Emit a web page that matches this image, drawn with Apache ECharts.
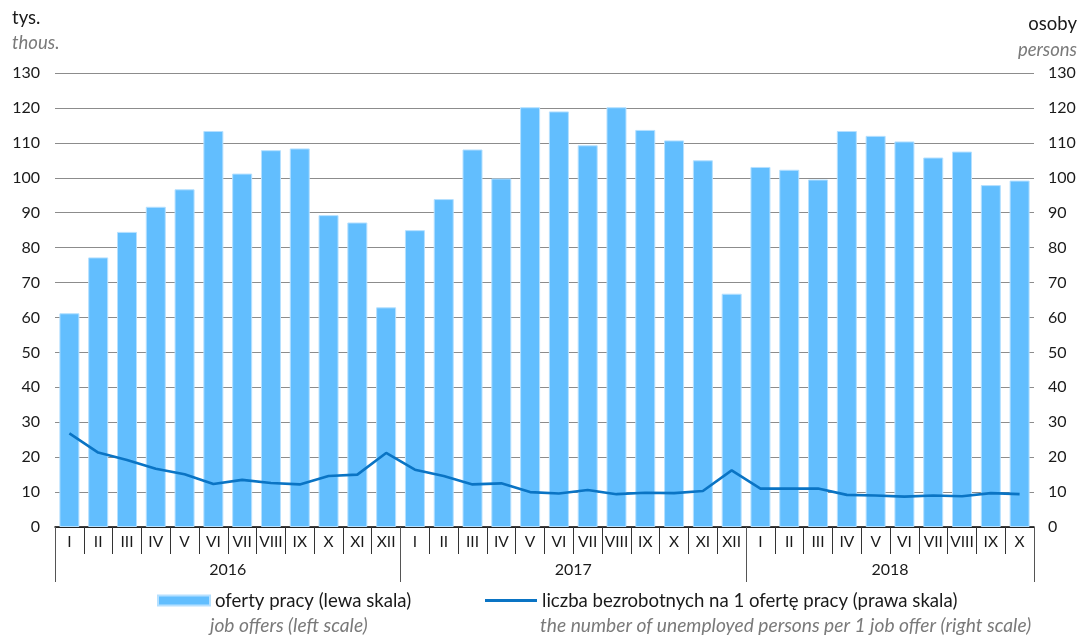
<!DOCTYPE html>
<html>
<head>
<meta charset="utf-8">
<script src="https://cdn.jsdelivr.net/npm/echarts@6/dist/echarts.min.js"></script>
<style>html,body{margin:0;padding:0;background:#fff}#c{width:1089px;height:638px}</style>
</head>
<body>
<div id="c"></div>
<script>
const months = ['I','II','III','IV','V','VI','VII','VIII','IX','X','XI','XII',
                'I','II','III','IV','V','VI','VII','VIII','IX','X','XI','XII',
                'I','II','III','IV','V','VI','VII','VIII','IX','X'];
const years = ['2016','2017','2018'];
const monthsPerYear = [12, 12, 10];
const jobOffers = [61.2,77.2,84.5,91.7,96.7,113.4,101.2,107.9,108.4,89.3,87.2,62.9,
                   85.0,93.9,108.1,99.8,120.2,119.0,109.3,120.2,113.7,110.7,105.0,66.8,
                   103.1,102.3,99.5,113.4,112.0,110.4,105.8,107.5,97.9,99.2];
const unemployedPerOffer = [26.8,21.3,19.2,16.7,15.1,12.3,13.5,12.6,12.2,14.6,15.0,21.2,
                            16.4,14.6,12.2,12.5,10.0,9.6,10.6,9.4,9.8,9.7,10.3,16.2,
                            11.0,11.0,11.0,9.2,9.0,8.7,9.0,8.8,9.7,9.4];
const leftTicks = [0,10,20,30,40,50,60,70,80,90,100,110,120,130];
const seriesNamesPL = ['oferty pracy (lewa skala)', 'liczba bezrobotnych na 1 ofertę pracy (prawa skala)'];
const seriesNamesEN = ['job offers (left scale)', 'the number of unemployed persons per 1 job offer (right scale)'];

// Year axis: boundary positions and centered labels (boundaryGap:false, one slot per month boundary)
const boundaries = [0];
const yearAxisData = [];
let acc = 0;
monthsPerYear.forEach(n => { acc += n; boundaries.push(acc); });
for (let i = 0; i <= acc; i++) yearAxisData.push('');
years.forEach((y, i) => {
  const mid = Math.floor((boundaries[i] + boundaries[i + 1]) / 2);
  yearAxisData[mid] = y;
});

const FONT = 'Lato, "Liberation Sans", sans-serif';
const TXT = '#1a1a1a';
const GREY = '#7a7a7a';
const LEG = 18.6;
const LEG_EN = 19.2;

const chart = echarts.init(document.getElementById('c'), null, {renderer: 'canvas'});
chart.setOption({
  animation: false,
  backgroundColor: '#fff',
  textStyle: {fontFamily: FONT},
  grid: {left: 55, right: 55, top: 73, bottom: 111, containLabel: false},
  legend: [
    {
      data: [seriesNamesPL[0]], left: 157, top: 591, itemWidth: 52, itemHeight: 10,
      icon: 'rect', padding: 0, selectedMode: false,
      textStyle: {fontFamily: FONT, fontSize: LEG, color: TXT}
    },
    {
      data: [seriesNamesPL[1]], left: 485, top: 591, itemWidth: 52, itemHeight: 3,
      icon: 'rect', padding: 0, selectedMode: false,
      textStyle: {fontFamily: FONT, fontSize: LEG, color: TXT}
    }
  ],
  xAxis: [
    {
      type: 'category', data: months, position: 'bottom', boundaryGap: true,
      axisLine: {show: true, lineStyle: {color: '#000', width: 1.5}},
      axisTick: {show: true, interval: 0, length: 27, lineStyle: {color: '#333', width: 1}},
      axisLabel: {interval: 0, margin: 7, fontSize: 15.5, color: TXT, fontFamily: FONT},
      splitLine: {show: false}
    },
    {
      type: 'category', data: yearAxisData, position: 'bottom', boundaryGap: false,
      axisLine: {show: false},
      axisTick: {show: true, length: 55, lineStyle: {color: '#555', width: 1},
        interval: (idx) => boundaries.indexOf(idx) >= 0},
      axisLabel: {interval: 0, margin: 35, fontSize: 16, color: TXT, fontFamily: FONT},
      splitLine: {show: false}
    }
  ],
  yAxis: [
    {
      type: 'value', min: leftTicks[0], max: leftTicks[leftTicks.length - 1], interval: 10, position: 'left',
      axisLine: {show: false}, axisTick: {show: false},
      axisLabel: {margin: 15, fontSize: 16, color: TXT, fontFamily: FONT},
      splitLine: {show: true, lineStyle: {color: '#8c8c8c', width: 1.2}}
    },
    {
      type: 'value', min: leftTicks[0], max: leftTicks[leftTicks.length - 1], interval: 10, position: 'right',
      axisLine: {show: false}, axisTick: {show: false},
      axisLabel: {margin: 14, fontSize: 16, color: TXT, fontFamily: FONT},
      splitLine: {show: false}
    }
  ],
  series: [
    {
      name: seriesNamesPL[0], type: 'bar', xAxisIndex: 0, yAxisIndex: 0, data: jobOffers,
      barWidth: 20,
      itemStyle: {color: '#62befe', borderColor: '#b5e0ff', borderWidth: 1}
    },
    {
      name: seriesNamesPL[1], type: 'line', xAxisIndex: 0, yAxisIndex: 1, data: unemployedPerOffer,
      symbol: 'none', showSymbol: false, z: 5,
      lineStyle: {color: '#0a74c4', width: 2.6}, itemStyle: {color: '#0a74c4'}
    }
  ],
  graphic: [
    {type: 'text', left: 12, top: 9, style: {text: 'tys.', font: '18.5px ' + FONT, fill: TXT}},
    {type: 'text', left: 12, top: 34, style: {text: 'thous.', font: 'italic 18.5px ' + FONT, fill: GREY}},
    {type: 'text', right: 12, top: 15, style: {text: 'osoby', font: '18.5px ' + FONT, fill: TXT}},
    {type: 'text', right: 12, top: 41, style: {text: 'persons', font: 'italic 18.5px ' + FONT, fill: GREY}},
    {type: 'text', left: 210, top: 616, style: {text: seriesNamesEN[0], font: 'italic ' + LEG_EN + 'px ' + FONT, fill: GREY}},
    {type: 'text', left: 540, top: 616, style: {text: seriesNamesEN[1], font: 'italic ' + LEG_EN + 'px ' + FONT, fill: GREY}}
  ]
});
</script>
</body>
</html>
